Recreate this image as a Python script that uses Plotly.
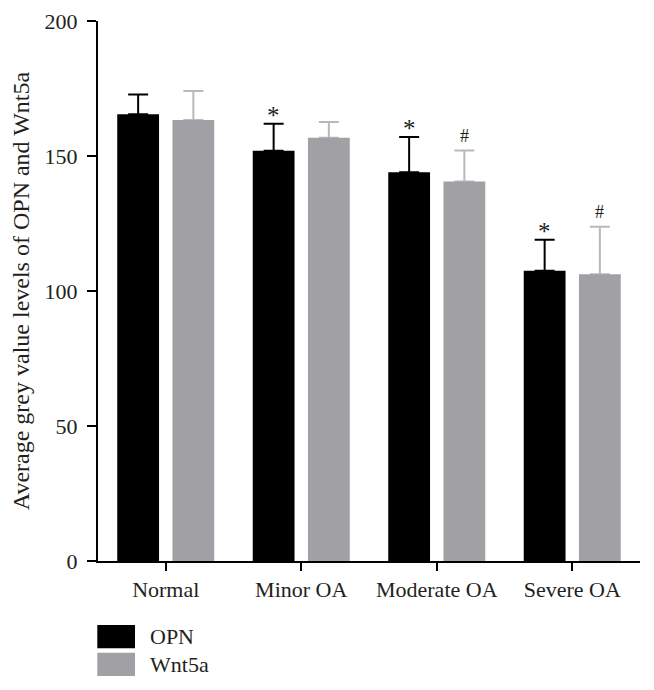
import plotly.graph_objects as go

categories = ["Normal", "Minor OA", "Moderate OA", "Severe OA"]
opn_mean = [165.5, 151.9, 144.0, 107.5]
opn_err = [7.3, 10.0, 13.0, 11.5]
wnt_mean = [163.3, 156.8, 140.6, 106.2]
wnt_err = [10.8, 5.8, 11.4, 17.6]
opn_marks = ["", "*", "*", "*"]
wnt_marks = ["", "", "#", "#"]
y_ticks = [0, 50, 100, 150, 200]

FONT = "Liberation Serif, Times New Roman, serif"
TXT = "#231F20"
OPN_C = "#000000"
WNT_C = "#A1A0A5"
WNT_ERR = "#B9B9B9"
BARGAP = 0.185
GROUPGAP = 0.243

fig = go.Figure()
fig.add_trace(go.Bar(
    x=categories, y=opn_mean, name="OPN", offsetgroup="opn",
    marker=dict(color=OPN_C, line=dict(width=0)),
    error_y=dict(type="data", array=opn_err, arrayminus=[0] * 4,
                 symmetric=False, color=OPN_C, thickness=2, width=10),
    showlegend=False,
))
# Wnt5a error bars (drawn underneath the Wnt5a bars so only the upper whisker shows)
fig.add_trace(go.Bar(
    x=categories, y=wnt_mean, name="Wnt5a SD", offsetgroup="wnt",
    marker=dict(color="rgba(0,0,0,0)", line=dict(width=0)),
    error_y=dict(type="data", array=wnt_err, arrayminus=[0] * 4,
                 symmetric=False, color=WNT_ERR, thickness=2, width=10),
    showlegend=False, hoverinfo="skip",
))
fig.add_trace(go.Bar(
    x=categories, y=wnt_mean, name="Wnt5a", offsetgroup="wnt",
    marker=dict(color=WNT_C, line=dict(width=0)),
    showlegend=False,
))

off = (1 - BARGAP) / 4
annotations = []
for i, (m, e, s) in enumerate(zip(opn_mean, opn_err, opn_marks)):
    if s:
        annotations.append(dict(x=i - off, y=m + e, xref="x", yref="y", text=s,
                                showarrow=False, yanchor="bottom", yshift=-7,
                                font=dict(family=FONT, size=25, color=TXT)))
for i, (m, e, s) in enumerate(zip(wnt_mean, wnt_err, wnt_marks)):
    if s:
        annotations.append(dict(x=i + off, y=m + e, xref="x", yref="y", text=s,
                                showarrow=False, yanchor="bottom", yshift=3,
                                font=dict(family=FONT, size=18, color=TXT)))

# custom legend (large swatches)
shapes = []
leg = [("OPN", OPN_C, -0.1185, -0.1617), ("Wnt5a", WNT_C, -0.1698, -0.213)]
for name, col, y0, y1 in leg:
    shapes.append(dict(type="rect", xref="paper", yref="paper",
                       x0=-0.0013, x1=0.0683, y0=y1, y1=y0,
                       fillcolor=col, line=dict(width=0)))
    annotations.append(dict(x=0.0925, y=(y0 + y1) / 2, xref="paper", yref="paper",
                            text=name, showarrow=False, xanchor="left", yanchor="middle",
                            font=dict(family=FONT, size=22, color=TXT)))

fig.update_layout(
    width=646, height=682,
    margin=dict(l=90, r=14, t=13, b=129),
    paper_bgcolor="white", plot_bgcolor="white",
    barmode="group", bargap=BARGAP, bargroupgap=GROUPGAP,
    font=dict(family=FONT, size=22, color=TXT),
    annotations=annotations, shapes=shapes,
    showlegend=False,
)
fig.update_xaxes(
    type="category", range=[-0.5, 3.5], automargin=False,
    showline=True, linecolor="black", linewidth=2,
    ticks="outside", ticklen=8, tickwidth=1.5, tickcolor="black",
    showgrid=False, zeroline=False,
    tickfont=dict(family=FONT, size=22, color=TXT),
)
fig.update_yaxes(
    range=[0, 200], tickvals=y_ticks, automargin=False,
    showline=True, linecolor="black", linewidth=2,
    ticks="outside", ticklen=9, tickwidth=1.5, tickcolor="black",
    ticklabelstandoff=5,
    showgrid=False, zeroline=False,
    tickfont=dict(family=FONT, size=22, color=TXT),
    title=dict(text="Average grey value levels of OPN and Wnt5a",
               font=dict(family=FONT, size=24, color=TXT), standoff=11),
)

fig.write_html("out.html")
